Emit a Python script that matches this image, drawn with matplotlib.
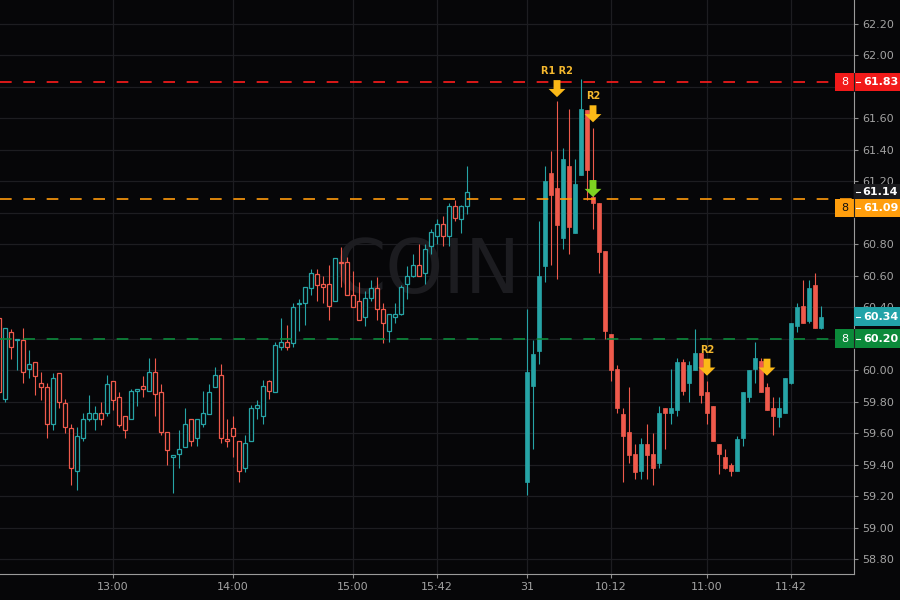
import numpy as np
import matplotlib.pyplot as plt
from matplotlib.patches import Rectangle, FancyArrow
from matplotlib.transforms import blended_transform_factory

# 3-minute bars, day 1 (12:03 - 15:57) and day 2 (09:30 - 11:57)
day1_open = [60.33, 59.82, 60.24, 60.19, 60.19, 60.01, 60.05, 59.92, 59.89, 59.66,
             59.98, 59.79, 59.63, 59.36, 59.57, 59.69, 59.69, 59.73, 59.73, 59.93,
             59.83, 59.71, 59.69, 59.87, 59.90, 59.87, 59.99, 59.86, 59.61, 59.45,
             59.47, 59.51, 59.69, 59.57, 59.66, 59.72, 59.89, 59.97, 59.56, 59.63,
             59.55, 59.38, 59.55, 59.76, 59.71, 59.93, 59.86, 60.15, 60.18, 60.17,
             60.42, 60.43, 60.52, 60.61, 60.55, 60.55, 60.44, 60.69, 60.69, 60.475,
             60.44, 60.34, 60.46, 60.52, 60.39, 60.25, 60.34, 60.36, 60.55, 60.60,
             60.67, 60.62, 60.79, 60.85, 60.93, 60.85, 61.04, 60.96, 61.04]
day1_high = [60.35, 60.27, 60.26, 60.20, 60.27, 60.13, 60.05, 59.99, 59.92, 59.98,
             59.98, 59.82, 59.66, 59.64, 59.73, 59.84, 59.77, 59.80, 59.97, 59.93,
             59.86, 59.71, 59.88, 59.88, 59.96, 60.08, 60.08, 59.91, 59.61, 59.46,
             59.62, 59.76, 59.69, 59.69, 59.87, 59.91, 60.02, 60.04, 59.69, 59.71,
             59.55, 59.59, 59.78, 59.81, 59.94, 59.94, 60.18, 60.33, 60.29, 60.43,
             60.45, 60.53, 60.64, 60.64, 60.60, 60.67, 60.71, 60.78, 60.72, 60.63,
             60.56, 60.50, 60.57, 60.59, 60.43, 60.36, 60.43, 60.54, 60.66, 60.74,
             60.80, 60.80, 60.90, 60.96, 60.98, 61.06, 61.08, 61.05, 61.30]
day1_low = [59.84, 59.80, 60.07, 60.00, 59.92, 59.95, 59.84, 59.81, 59.57, 59.62,
            59.76, 59.60, 59.27, 59.24, 59.55, 59.68, 59.62, 59.65, 59.71, 59.75,
            59.64, 59.57, 59.69, 59.77, 59.83, 59.87, 59.71, 59.59, 59.40, 59.22,
            59.38, 59.51, 59.52, 59.52, 59.64, 59.72, 59.89, 59.54, 59.51, 59.45,
            59.29, 59.35, 59.55, 59.69, 59.66, 59.82, 59.86, 60.13, 60.13, 60.15,
            60.25, 60.29, 60.48, 60.44, 60.43, 60.32, 60.44, 60.53, 60.475, 60.40,
            60.32, 60.28, 60.44, 60.32, 60.17, 60.18, 60.30, 60.35, 60.45, 60.59,
            60.60, 60.55, 60.74, 60.80, 60.79, 60.79, 60.95, 60.87, 60.99]
day1_close = [59.86, 60.27, 60.15, 60.20, 59.99, 60.04, 59.96, 59.89, 59.66, 59.95,
              59.80, 59.64, 59.38, 59.58, 59.69, 59.73, 59.73, 59.69, 59.91, 59.81,
              59.65, 59.62, 59.87, 59.875, 59.88, 59.99, 59.85, 59.61, 59.49, 59.46,
              59.50, 59.66, 59.55, 59.69, 59.73, 59.86, 59.97, 59.57, 59.55, 59.58,
              59.36, 59.54, 59.76, 59.78, 59.90, 59.87, 60.16, 60.18, 60.15, 60.40,
              60.425, 60.53, 60.62, 60.54, 60.53, 60.41, 60.71, 60.68, 60.475, 60.40,
              60.32, 60.46, 60.52, 60.39, 60.30, 60.36, 60.36, 60.53, 60.60, 60.67,
              60.60, 60.77, 60.88, 60.93, 60.85, 61.04, 60.97, 61.04, 61.13]

day2_open = [59.29, 59.90, 60.12, 60.66, 61.25, 61.16, 60.84, 61.30, 60.87, 61.24,
             61.65, 61.10, 61.06, 60.76, 60.23, 60.01, 59.72, 59.61, 59.47, 59.36,
             59.53, 59.47, 59.41, 59.76, 59.73, 59.75, 60.05, 59.92, 60.00, 60.11,
             59.86, 59.77, 59.53, 59.45, 59.40, 59.36, 59.57, 59.83, 60.01, 60.06,
             59.89, 59.76, 59.70, 59.73, 59.92, 60.28, 60.41, 60.31, 60.54, 60.27]
day2_high = [60.39, 60.19, 60.95, 61.30, 61.39, 61.71, 61.41, 61.66, 61.34, 61.85,
             61.65, 61.54, 61.06, 60.76, 60.23, 60.03, 59.76, 59.89, 59.53, 59.57,
             59.66, 59.60, 59.77, 59.76, 60.01, 60.08, 60.07, 60.06, 60.26, 60.11,
             59.93, 59.77, 59.53, 59.50, 59.41, 59.58, 59.86, 60.00, 60.18, 60.08,
             59.92, 59.83, 59.83, 59.95, 60.30, 60.43, 60.57, 60.57, 60.62, 60.41]
day2_low = [59.21, 59.50, 60.04, 60.56, 60.67, 60.58, 60.77, 60.74, 60.87, 61.24,
            61.08, 60.90, 60.62, 60.20, 59.93, 59.73, 59.29, 59.41, 59.31, 59.31,
            59.31, 59.27, 59.38, 59.50, 59.66, 59.71, 59.84, 59.80, 60.00, 59.79,
            59.66, 59.55, 59.34, 59.37, 59.33, 59.36, 59.52, 59.80, 59.92, 59.86,
            59.75, 59.59, 59.64, 59.73, 59.91, 60.24, 60.30, 60.30, 60.27, 60.26]
day2_close = [59.99, 60.10, 60.60, 61.20, 61.11, 60.92, 61.34, 60.91, 61.18, 61.66,
              61.27, 61.06, 60.75, 60.25, 60.00, 59.76, 59.58, 59.46, 59.35, 59.53,
              59.46, 59.38, 59.73, 59.73, 59.76, 60.05, 59.87, 60.03, 60.11, 59.84,
              59.73, 59.55, 59.47, 59.38, 59.36, 59.56, 59.86, 60.00, 60.08, 59.86,
              59.75, 59.71, 59.76, 59.95, 60.30, 60.40, 60.30, 60.52, 60.27, 60.34]

tick_labels = ['13:00', '14:00', '15:00', '15:42', '31', '10:12', '11:00', '11:42']
tick_bars = [19, 39, 59, 73, 88, 102, 118, 132]
session_gap = 10

# price scale labels (the ones hidden behind the marker boxes are blank)
price_ticks = [58.8, 59.0, 59.2, 59.4, 59.6, 59.8, 60.0, 60.2, 60.4, 60.6,
               60.8, 61.0, 61.2, 61.4, 61.6, 61.8, 62.0, 62.2]
price_tick_labels = ['58.80', '59.00', '59.20', '59.40', '59.60', '59.80', '60.00',
                     '', '60.40', '60.60', '60.80', '', '61.20', '61.40', '61.60',
                     '', '62.00', '62.20']

# signals: bar of day 2, label, colour
signal_bars = [5, 11, 11, 30, 40]
signal_tips = [61.735, 61.575, 61.10, 59.965, 59.965]
signal_labels = ['R1 R2', 'R2', '', 'R2', '']
signal_colors = ['#fbb917', '#fbb917', '#7ed321', '#fbb917', '#fbb917']

# horizontal levels
level_prices = [61.83, 61.09, 60.20]
level_colors = ['#ff1c1c', '#ff9a0c', '#0c8a3c']

up_color = '#26a4a6'
down_color = '#ef5a4c'
bg = '#060608'

fig = plt.figure(figsize=(9, 6), dpi=100, facecolor=bg)
ax = fig.add_axes([0, 26 / 600, 854 / 900, 574 / 600])
ax.set_facecolor(bg)

x1 = np.arange(len(day1_open))
x2 = np.arange(len(day2_open)) + len(day1_open) + session_gap - 1


def draw_candles(x, o, h, l, c, hollow):
    o, h, l, c = map(np.array, (o, h, l, c))
    colors = np.where(c >= o, up_color, down_color)
    ax.vlines(x, l, h, colors=colors, linewidth=0.8, zorder=2)
    bottom = np.minimum(o, c)
    height = np.maximum(np.abs(c - o), 0.008)
    if hollow:
        ax.bar(x, height, bottom=bottom, width=0.74, facecolor=bg,
               edgecolor=colors, linewidth=0.9, zorder=3)
    else:
        ax.bar(x, height, bottom=bottom, width=0.74, color=colors,
               edgecolor=colors, linewidth=0.5, zorder=3)


draw_candles(x1, day1_open, day1_high, day1_low, day1_close, True)
draw_candles(x2, day2_open, day2_high, day2_low, day2_close, False)

for price, col in zip(level_prices, level_colors):
    ax.axhline(price, color=col, linewidth=1.2, dashes=(7, 7), zorder=4)

# signal arrows
for b, tip, lab, col in zip(signal_bars, signal_tips, signal_labels, signal_colors):
    xb = x2[b]
    top = tip + 0.108
    ax.add_patch(FancyArrow(xb, top, 0, -0.108, width=1.15, head_width=2.8,
                            head_length=0.052, length_includes_head=True,
                            color=col, linewidth=0, zorder=6))
    if lab:
        ax.text(xb, top + 0.025, lab, color='#f5b82e', fontsize=7,
                fontweight='bold', ha='center', va='bottom', zorder=6)

# watermark
ax.text(0.501, 0.526, 'COIN', transform=ax.transAxes, fontsize=53,
        color='#1c1c20', ha='center', va='center', zorder=0)

ax.set_xlim(19 - 113 / 6, 19 + 741 / 6)
ax.set_ylim(58.705, 62.352)
ax.set_yticks(price_ticks)
ax.set_yticklabels(price_tick_labels)
ax.set_xticks(tick_bars)
ax.set_xticklabels(tick_labels)
ax.yaxis.tick_right()
ax.grid(True, color='#1d1d21', linewidth=0.9, zorder=0)
ax.set_axisbelow(True)
ax.tick_params(colors='#8c8c8c', labelcolor='#a3a3a3', labelsize=8, length=3,
               width=0.8, pad=3)
for side in ['top', 'left']:
    ax.spines[side].set_visible(False)
for side in ['right', 'bottom']:
    ax.spines[side].set_color('#9a9a9a')
    ax.spines[side].set_linewidth(0.8)

# price labels on the right scale
trans = blended_transform_factory(ax.transAxes, ax.transData)
box_h = 0.118
label_prices = [61.83, 61.03, 60.20, 60.34, 61.135]
label_texts = ['61.83', '61.09', '60.20', '60.34', '61.14']
label_counts = ['8', '8', '8', '', '']
label_colors = ['#f21a1a', '#ff9e0d', '#0b8a3a', '#22a3a8', '#1b1b1e']
count_colors = ['white', '#111111', 'white', 'white', 'white']
for p, txt, cnt, col, ccol in zip(label_prices, label_texts, label_counts,
                                  label_colors, count_colors):
    x0 = 835 / 854 if cnt else 1.0
    h = box_h if cnt or col != '#1b1b1e' else 0.095
    ax.add_patch(Rectangle((x0, p - h / 2), 1.054 - x0, h, transform=trans,
                           facecolor=col, edgecolor='none', clip_on=False,
                           zorder=7))
    if cnt:
        ax.text(845 / 854, p, cnt, transform=trans, color=ccol, fontsize=8,
                ha='center', va='center', clip_on=False, zorder=8)
        ax.plot([1.0, 1.0], [p - h / 2, p + h / 2], transform=trans,
                color='#222222', linewidth=0.8, clip_on=False, zorder=8)
    ax.plot([1.002, 1.007], [p, p], transform=trans, color='white',
            linewidth=0.8, clip_on=False, zorder=8)
    ax.text(1.031, p, txt, transform=trans, color='white', fontsize=8,
            fontweight='bold', ha='center', va='center', clip_on=False,
            zorder=8)

fig.savefig('out.png', dpi=100, facecolor=bg)
